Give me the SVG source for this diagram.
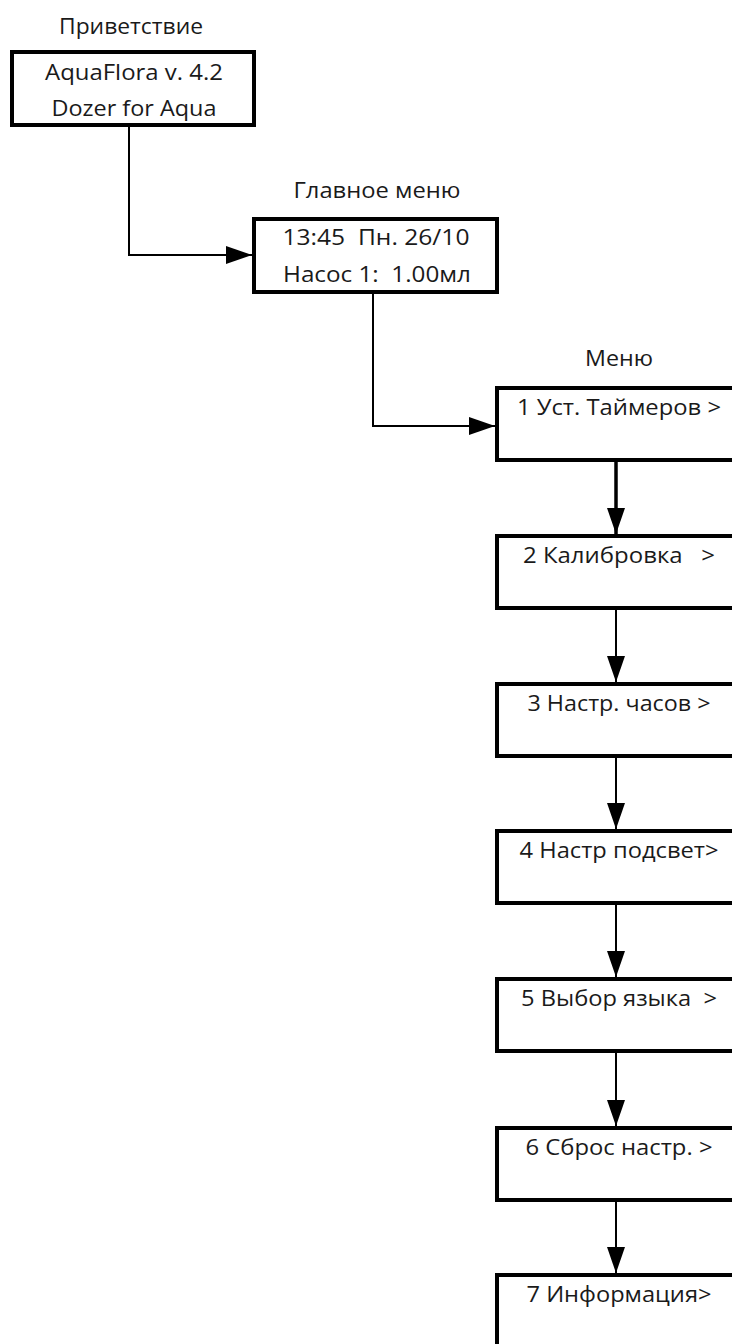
<svg xmlns="http://www.w3.org/2000/svg" width="732" height="1344" viewBox="0 0 732 1344">
<style>
.box{fill:#fff;stroke:#000;stroke-width:4}
.t{font-family:"Open Sans","Liberation Sans",sans-serif;font-size:21px;fill:#1a1a1a;text-anchor:middle}
.c{fill:none;stroke:#000;stroke-width:2}
.c1{fill:none;stroke:#000;stroke-width:3.5}
</style>
<defs>
<marker id="ah" markerUnits="userSpaceOnUse" markerWidth="26" markerHeight="18" refX="26" refY="9" orient="auto">
<path d="M0,0 L26,9 L0,18 Z" fill="#000"/>
</marker>
</defs>
<rect width="732" height="1344" fill="#fff"/>
<g id="connectors">
<path class="c" d="M129,126 V255 H252" marker-end="url(#ah)"/>
<path class="c" d="M373,292 V426 H495" marker-end="url(#ah)"/>
<path class="c1" d="M616,460 V534" marker-end="url(#ah)"/>
<path class="c" d="M616,608 V682" marker-end="url(#ah)"/>
<path class="c" d="M616,756 V829" marker-end="url(#ah)"/>
<path class="c" d="M616,903 V977" marker-end="url(#ah)"/>
<path class="c" d="M616,1051 V1126" marker-end="url(#ah)"/>
<path class="c" d="M616,1200 V1273" marker-end="url(#ah)"/>
</g>
<g id="greeting">
<text class="t" x="131" y="34" textLength="144" lengthAdjust="spacingAndGlyphs">Приветствие</text>
<rect class="box" x="12" y="52" width="242" height="73"/>
<text class="t" x="134" y="80" textLength="178" lengthAdjust="spacingAndGlyphs">AquaFlora v. 4.2</text>
<text class="t" x="134" y="116" textLength="165" lengthAdjust="spacingAndGlyphs">Dozer for Aqua</text>
</g>
<g id="main-menu">
<text class="t" x="377" y="198" textLength="167" lengthAdjust="spacingAndGlyphs">Главное меню</text>
<rect class="box" x="254" y="219" width="243" height="73"/>
<text class="t" x="376" y="245" textLength="187" lengthAdjust="spacingAndGlyphs" xml:space="preserve">13:45  Пн. 26/10</text>
<text class="t" x="377" y="282" textLength="188" lengthAdjust="spacingAndGlyphs" xml:space="preserve">Насос 1:  1.00мл</text>
</g>
<text class="t" x="619" y="366" textLength="68" lengthAdjust="spacingAndGlyphs">Меню</text>
<g id="menu1">
<rect class="box" x="497" y="388" width="244" height="72"/>
<text class="t" x="619" y="415" textLength="204" lengthAdjust="spacingAndGlyphs">1 Уст. Таймеров &gt;</text>
</g>
<g id="menu2">
<rect class="box" x="497" y="536" width="244" height="72"/>
<text class="t" x="619" y="563" textLength="192" lengthAdjust="spacingAndGlyphs" xml:space="preserve">2 Калибровка   &gt;</text>
</g>
<g id="menu3">
<rect class="box" x="497" y="684" width="244" height="72"/>
<text class="t" x="619" y="711" textLength="183" lengthAdjust="spacingAndGlyphs">3 Настр. часов &gt;</text>
</g>
<g id="menu4">
<rect class="box" x="497" y="831" width="244" height="72"/>
<text class="t" x="619" y="858" textLength="199" lengthAdjust="spacingAndGlyphs">4 Настр подсвет&gt;</text>
</g>
<g id="menu5">
<rect class="box" x="497" y="979" width="244" height="72"/>
<text class="t" x="619" y="1006" textLength="196" lengthAdjust="spacingAndGlyphs" xml:space="preserve">5 Выбор языка  &gt;</text>
</g>
<g id="menu6">
<rect class="box" x="497" y="1128" width="244" height="72"/>
<text class="t" x="619" y="1155" textLength="187" lengthAdjust="spacingAndGlyphs">6 Сброс настр. &gt;</text>
</g>
<g id="menu7">
<rect class="box" x="497" y="1275" width="244" height="72"/>
<text class="t" x="619" y="1302" textLength="185" lengthAdjust="spacingAndGlyphs">7 Информация&gt;</text>
</g>
</svg>
